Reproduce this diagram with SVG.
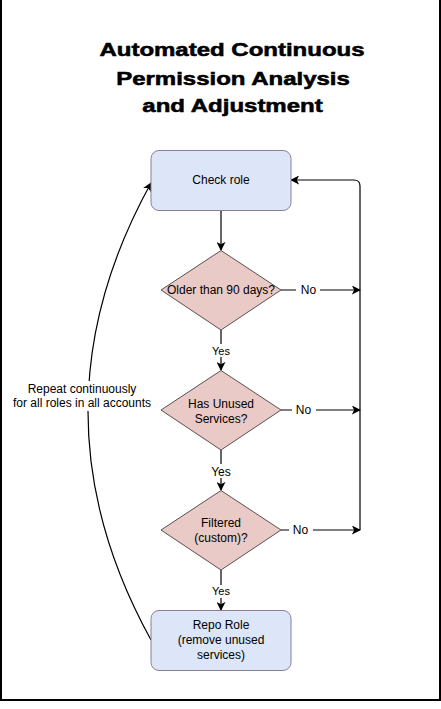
<svg xmlns="http://www.w3.org/2000/svg" width="441" height="709" viewBox="0 0 441 709">
<defs>
<marker id="arr" viewBox="0 0 10 10" refX="9" refY="5" markerWidth="9" markerHeight="9" markerUnits="userSpaceOnUse" orient="auto">
<path d="M0,0 L10,5 L0,10 L2.5,5 Z" fill="#000"/>
</marker>
<style>
.title{font-family:"Liberation Sans",Arial,sans-serif;font-weight:bold;font-size:24px;fill:#000;stroke:#000;stroke-width:0.7;text-anchor:middle}
.t{font-family:"Liberation Sans",Arial,sans-serif;font-size:12px;fill:#000;text-anchor:middle}
.s{font-family:"Liberation Sans",Arial,sans-serif;font-size:11px;fill:#000;text-anchor:middle}
.box{fill:#dce6f8;stroke:#8c7f95;stroke-width:1}
.dia{fill:#eacac6;stroke:#5a5050;stroke-width:1}
.e{fill:none;stroke:#000;stroke-width:1.2}
.lbg{fill:#fff}
</style>
</defs>
<rect x="1" y="-2" width="439" height="702" fill="#fff" stroke="#000" stroke-width="2"/>
<g id="title">
<text class="title" transform="translate(232,56) scale(1,0.8)" x="0" y="0">Automated Continuous</text>
<text class="title" transform="translate(233,84.5) scale(1,0.8)" x="0" y="0">Permission Analysis</text>
<text class="title" transform="translate(232.5,112) scale(1,0.8)" x="0" y="0">and Adjustment</text>
</g>
<g id="connectors">
<path class="e" d="M221,211 L221,250" marker-end="url(#arr)"/>
<path class="e" d="M221,330 L221,370" marker-end="url(#arr)"/>
<path class="e" d="M221,450 L221,490" marker-end="url(#arr)"/>
<path class="e" d="M221,570 L221,610" marker-end="url(#arr)"/>
<path class="e" d="M281,290 L360,290" marker-end="url(#arr)"/>
<path class="e" d="M281,410 L360,410" marker-end="url(#arr)"/>
<path class="e" d="M281,530 L360,530" marker-end="url(#arr)"/>
<path class="e" d="M360,530 L360,186 Q360,180 354,180 L291,180" marker-end="url(#arr)"/>
<path class="e" d="M151,640 Q25,411 151,183" marker-end="url(#arr)"/>
<rect class="lbg" x="296" y="283" width="24" height="14"/>
<text class="t" x="308.5" y="294.3">No</text>
<rect class="lbg" x="292" y="403" width="24" height="14"/>
<text class="t" x="303.5" y="414.3">No</text>
<rect class="lbg" x="289" y="523" width="24" height="14"/>
<text class="t" x="300.5" y="534.3">No</text>
<rect class="lbg" x="209" y="344" width="24" height="13"/>
<text class="s" x="221" y="355">Yes</text>
<rect class="lbg" x="208" y="464" width="26" height="14"/>
<text class="t" x="221" y="475.7">Yes</text>
<rect class="lbg" x="209" y="585" width="24" height="13"/>
<text class="s" x="221" y="595.3">Yes</text>
<rect class="lbg" x="12" y="381" width="140" height="30"/>
<text class="t" x="82" y="392.5">Repeat continuously</text>
<text class="t" x="82" y="406.5">for all roles in all accounts</text>
</g>
<g id="check-role">
<rect class="box" x="151" y="150.5" width="140" height="60" rx="8"/>
<text class="t" x="221" y="184.3">Check role</text>
</g>
<g id="older-than-90">
<polygon class="dia" points="221,250.5 281,290 221,330 161,290"/>
<text class="t" x="221" y="294.3">Older than 90 days?</text>
</g>
<g id="has-unused">
<polygon class="dia" points="221,370.5 281,410 221,450 161,410"/>
<text class="t" x="221" y="408">Has Unused</text>
<text class="t" x="221" y="423">Services?</text>
</g>
<g id="filtered">
<polygon class="dia" points="221,490.5 281,530 221,570 161,530"/>
<text class="t" x="221" y="527">Filtered</text>
<text class="t" x="221" y="542">(custom)?</text>
</g>
<g id="repo-role">
<rect class="box" x="151" y="610.5" width="140" height="60" rx="8"/>
<text class="t" x="221" y="629.3">Repo Role</text>
<text class="t" x="221" y="644.3">(remove unused</text>
<text class="t" x="221" y="659.3">services)</text>
</g>
</svg>
